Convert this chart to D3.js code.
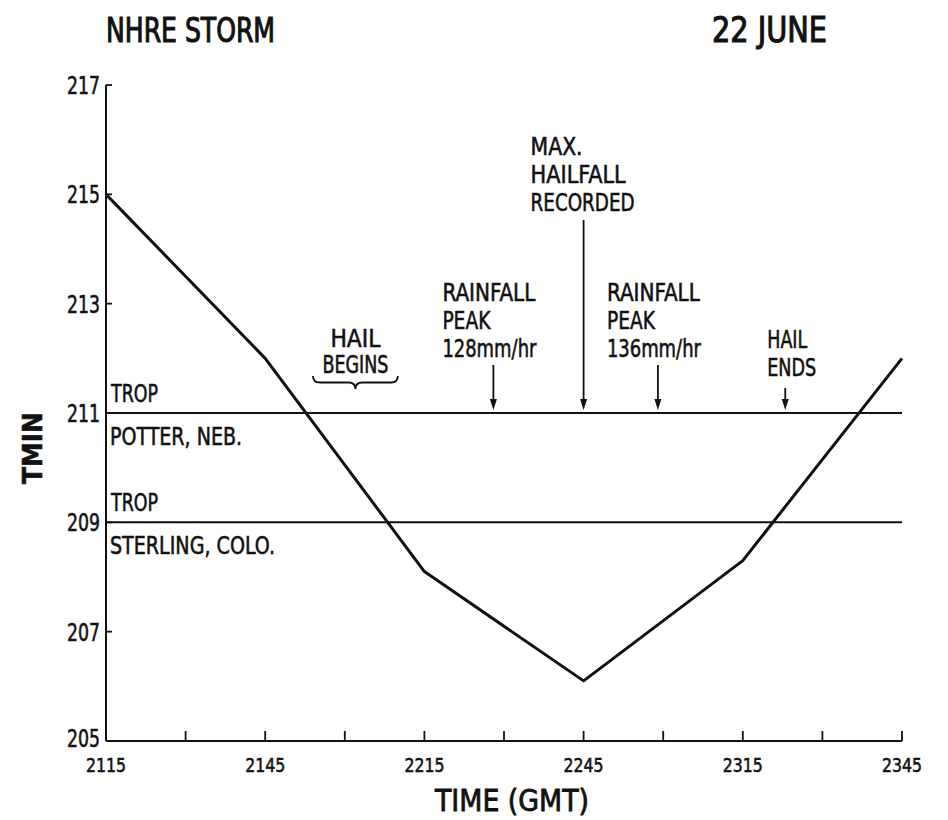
<!DOCTYPE html>
<html>
<head>
<meta charset="utf-8">
<script src="https://cdn.jsdelivr.net/npm/d3@7"></script>
<style>
  html, body { margin: 0; padding: 0; background: #fff; }
  svg { display: block; }
  text { font-family: "DejaVu Sans Condensed", "Liberation Sans Narrow", "DejaVu Sans", sans-serif; fill: #111; stroke: #111; stroke-width: 0.55px; }
</style>
</head>
<body>
<svg id="chart" width="948" height="820"></svg>
<script>
// Minimum cloud-top temperature over the storm, by observation time (GMT)
const times = ["2115", "2145", "2215", "2245", "2315", "2345"];
const tmin  = [215.0, 212.0, 208.1, 206.1, 208.3, 212.0];

// Axis ticks
const xTickLabels = ["2115", "2145", "2215", "2245", "2315", "2345"];
const xMinorTicks = ["2130", "2200", "2230", "2300", "2330"];
const yTickLabels = [205, 207, 209, 211, 213, 215, 217];

// Tropopause temperatures at two sounding stations
const tropValues = [211, 209];
const tropStations = ["POTTER, NEB.", "STERLING, COLO."];

// Storm events marked with arrows
const eventTimes = ["2228", "2245", "2259", "2323"];
const eventLabels = [
  ["RAINFALL", "PEAK", "128mm/hr"],
  ["MAX.", "HAILFALL", "RECORDED"],
  ["RAINFALL", "PEAK", "136mm/hr"],
  ["HAIL", "ENDS"]
];
// Hail onset period (brace)
const hailBeginSpan = ["2154", "2210"];

// minutes after 2115 GMT
const toMin = t => {
  const h = +t.slice(0, 2), m = +t.slice(2);
  return (h * 60 + m) - (21 * 60 + 15);
};

const svg = d3.select("#chart");
const x = d3.scaleLinear().domain([0, 150]).range([106, 902]);
const y = d3.scaleLinear().domain([205, 217]).range([741, 85]);
const ink = "#111";

const label = (sel, str, px, py, size, len, anchor) =>
  sel.append("text").attr("x", px).attr("y", py)
    .attr("font-size", size).attr("text-anchor", anchor || "start")
    .attr("textLength", len).attr("lengthAdjust", "spacingAndGlyphs")
    .text(str);

// Titles
label(svg, "NHRE STORM", 106, 42, 34, 169).style("stroke-width", "1.1px");
label(svg, "22  JUNE", 712, 42, 36, 115).style("stroke-width", "1.1px");

// Axes lines
svg.append("line").attr("x1", x(0)).attr("x2", x(0)).attr("y1", y(217)).attr("y2", y(205))
  .attr("stroke", ink).attr("stroke-width", 2);
svg.append("line").attr("x1", x(0)).attr("x2", x(150)).attr("y1", y(205)).attr("y2", y(205))
  .attr("stroke", ink).attr("stroke-width", 2.2);

// y ticks: short stubs pointing right
svg.append("g").selectAll("line").data(yTickLabels.filter(v => v > 205)).join("line")
  .attr("x1", x(0)).attr("x2", x(0) + 6)
  .attr("y1", d => y(d)).attr("y2", d => y(d))
  .attr("stroke", ink).attr("stroke-width", 1.8);

// x ticks pointing up
const allTicks = xTickLabels.concat(xMinorTicks).filter(t => toMin(t) > 0);
svg.append("g").selectAll("line").data(allTicks).join("line")
  .attr("x1", d => x(toMin(d))).attr("x2", d => x(toMin(d)))
  .attr("y1", y(205)).attr("y2", y(205) - 10)
  .attr("stroke", ink).attr("stroke-width", 1.8);

const xl = svg.append("g");
xTickLabels.forEach(d => label(xl, d, x(toMin(d)), 772, 20, 40, "middle"));

const yl = svg.append("g");
yTickLabels.forEach(d => label(yl, String(d), 100, y(d) + (d === 205 ? 6 : 9), 24, 33, "end"));

// Axis titles
label(svg, "TIME  (GMT)", 512, 811, 31, 154, "middle").style("stroke-width", "0.8px");
svg.append("text").attr("transform", "translate(42,448) rotate(-90)")
  .attr("text-anchor", "middle").attr("font-size", 27).attr("font-weight", "bold")
  .attr("textLength", 72).attr("lengthAdjust", "spacingAndGlyphs")
  .text("TMIN");

// Tropopause lines
const trop = svg.append("g");
tropValues.forEach((v, i) => {
  trop.append("line").attr("x1", x(0)).attr("x2", x(150)).attr("y1", y(v)).attr("y2", y(v))
    .attr("stroke", ink).attr("stroke-width", 2);
  label(trop, "TROP", x(0) + 5, y(v) - 11, 24, 47);
  label(trop, tropStations[i], x(0) + 4, y(v) + 32, 24, i === 0 ? 132 : 165);
});

// Tmin curve
svg.append("path")
  .datum(times.map((t, i) => [toMin(t), tmin[i]]))
  .attr("d", d3.line().x(d => x(d[0])).y(d => y(d[1])))
  .attr("fill", "none").attr("stroke", ink).attr("stroke-width", 3)
  .attr("stroke-linejoin", "round");

// Event arrows and labels
const arrowTops = [365, 220, 365, 388];
const labelWidths = [[93, 48, 94], [52, 95, 104], [93, 48, 94], [40, 49]];
const ev = svg.append("g");
eventTimes.forEach((t, i) => {
  const ax = x(toMin(t));
  const yEnd = y(211) - 3;
  ev.append("line").attr("x1", ax).attr("x2", ax).attr("y1", arrowTops[i]).attr("y2", yEnd - 8)
    .attr("stroke", ink).attr("stroke-width", 1.8);
  ev.append("path")
    .attr("d", `M${ax - 3.5},${yEnd - 11} L${ax + 3.5},${yEnd - 11} L${ax},${yEnd} Z`)
    .attr("fill", ink);
  const lines = eventLabels[i];
  const left = ax - (i === 3 ? 18 : (i === 1 ? 53 : 51));
  const lastBase = i === 1 ? 211 : (i === 3 ? 376 : 357);
  lines.forEach((s, j) => {
    label(ev, s, left, lastBase - (lines.length - 1 - j) * 28, 24, labelWidths[i][j]);
  });
});

// Hail begins brace
const b0 = x(toMin(hailBeginSpan[0])), b1 = x(toMin(hailBeginSpan[1]));
const bm = (b0 + b1) / 2, bt = 376, bh = 13, r = 7;
svg.append("path")
  .attr("d", `M${b0},${bt} Q${b0},${bt + bh / 2} ${b0 + r},${bt + bh / 2} L${bm - r},${bt + bh / 2}
              Q${bm},${bt + bh / 2} ${bm},${bt + bh} Q${bm},${bt + bh / 2} ${bm + r},${bt + bh / 2}
              L${b1 - r},${bt + bh / 2} Q${b1},${bt + bh / 2} ${b1},${bt}`)
  .attr("fill", "none").attr("stroke", ink).attr("stroke-width", 1.8);
label(svg, "HAIL", bm, 347, 24, 50, "middle");
label(svg, "BEGINS", bm, 373, 24, 66, "middle");
</script>
</body>
</html>
